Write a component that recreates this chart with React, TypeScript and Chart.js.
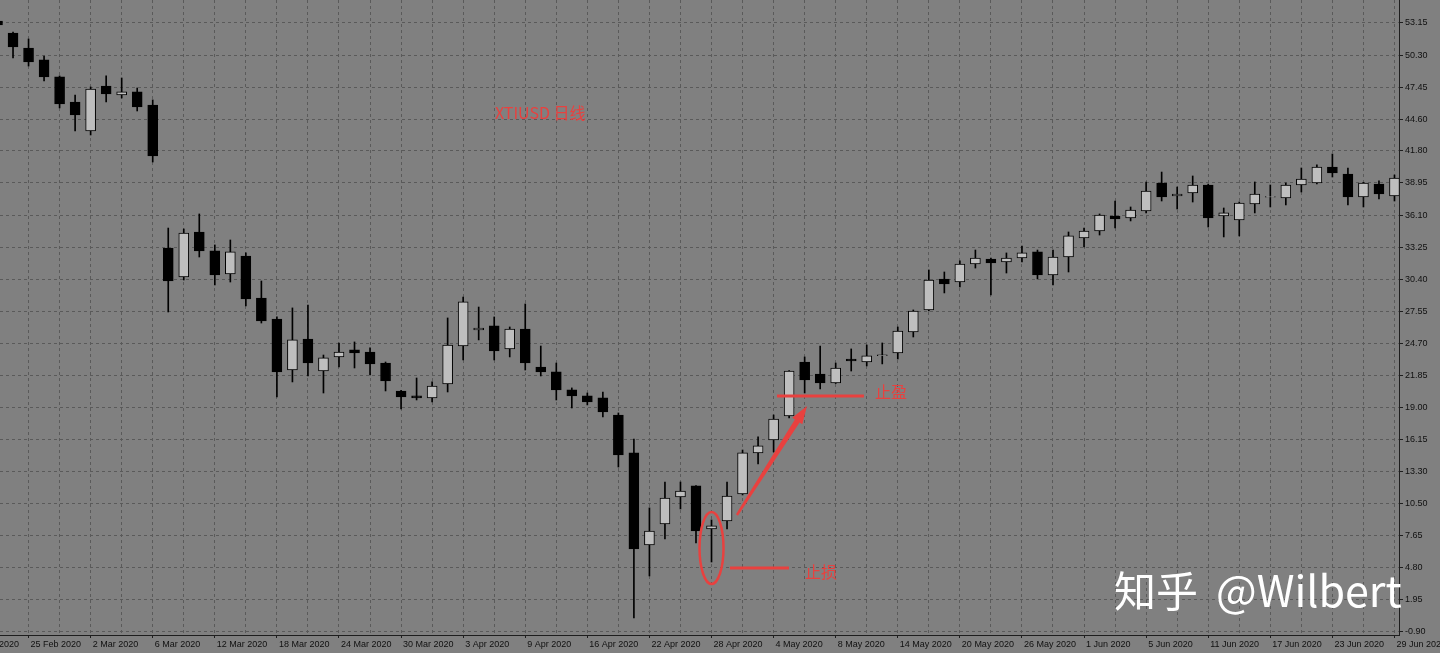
import React, { useEffect, useRef } from 'react';
import { Chart, registerables } from 'chart.js';

Chart.register(...registerables);

// Trading days shown on the axis (first two are off-screen to the left, label only)
const dates = ["19 Feb 2020","20 Feb 2020","21 Feb 2020","24 Feb 2020","25 Feb 2020","26 Feb 2020","27 Feb 2020","28 Feb 2020","2 Mar 2020","3 Mar 2020","4 Mar 2020","5 Mar 2020","6 Mar 2020","9 Mar 2020","10 Mar 2020","11 Mar 2020","12 Mar 2020","13 Mar 2020","16 Mar 2020","17 Mar 2020","18 Mar 2020","19 Mar 2020","20 Mar 2020","23 Mar 2020","24 Mar 2020","25 Mar 2020","26 Mar 2020","27 Mar 2020","30 Mar 2020","31 Mar 2020","1 Apr 2020","2 Apr 2020","3 Apr 2020","6 Apr 2020","7 Apr 2020","8 Apr 2020","9 Apr 2020","13 Apr 2020","14 Apr 2020","15 Apr 2020","16 Apr 2020","17 Apr 2020","20 Apr 2020","21 Apr 2020","22 Apr 2020","23 Apr 2020","24 Apr 2020","27 Apr 2020","28 Apr 2020","29 Apr 2020","30 Apr 2020","1 May 2020","4 May 2020","5 May 2020","6 May 2020","7 May 2020","8 May 2020","11 May 2020","12 May 2020","13 May 2020","14 May 2020","15 May 2020","18 May 2020","19 May 2020","20 May 2020","21 May 2020","22 May 2020","25 May 2020","26 May 2020","27 May 2020","28 May 2020","29 May 2020","1 Jun 2020","2 Jun 2020","3 Jun 2020","4 Jun 2020","5 Jun 2020","8 Jun 2020","9 Jun 2020","10 Jun 2020","11 Jun 2020","12 Jun 2020","15 Jun 2020","16 Jun 2020","17 Jun 2020","18 Jun 2020","19 Jun 2020","22 Jun 2020","23 Jun 2020","24 Jun 2020","25 Jun 2020","26 Jun 2020","29 Jun 2020"];

// index in `dates` of the first candle
const FIRST_CANDLE = 2;

const opens = [53.33,52.26,50.93,49.87,48.36,46.14,43.56,47.56,46.76,47.03,45.87,33.18,30.61,34.60,32.92,30.87,32.47,28.74,26.88,22.35,25.10,22.26,23.51,24.13,23.95,22.97,20.49,20.05,19.87,21.11,24.48,25.90,26.26,24.22,25.99,22.62,22.18,20.58,20.05,19.87,18.36,14.99,6.82,8.68,11.08,12.06,8.24,8.95,11.35,14.99,16.14,18.27,23.06,21.99,21.20,23.33,23.06,23.62,23.86,25.72,27.68,30.43,30.16,31.76,32.20,31.94,32.29,32.83,30.78,32.38,34.07,34.69,36.02,35.84,36.46,38.95,37.79,38.06,38.77,36.02,35.66,37.08,37.68,37.62,38.77,38.95,40.37,39.75,37.71,38.86,37.79];
const highs = [53.70,52.35,51.73,50.22,48.45,46.76,47.47,48.45,48.27,47.38,46.32,34.95,34.87,36.20,33.45,33.89,32.74,30.25,27.06,27.86,28.12,23.68,24.75,24.84,24.31,23.06,20.55,21.64,21.29,26.97,28.83,27.94,27.06,26.17,28.21,24.48,22.97,20.76,20.31,20.40,18.54,16.23,10.11,12.41,12.41,12.10,9.04,12.41,15.25,16.41,18.36,22.30,23.51,24.48,22.97,24.22,24.57,24.75,26.17,27.68,31.23,31.05,32.03,33.00,32.29,32.74,33.36,33.00,33.00,34.60,34.95,36.20,37.35,36.82,39.04,39.92,38.59,39.57,38.85,36.73,37.26,39.04,38.77,38.95,40.28,40.55,41.52,40.28,39.00,39.13,39.66];
const lows = [52.60,50.04,49.33,48.00,45.61,43.56,43.21,46.14,46.49,45.34,40.81,27.50,30.34,32.38,29.90,30.16,28.03,26.52,19.96,21.29,21.82,20.31,22.62,22.53,21.91,20.49,18.89,19.69,19.51,20.40,23.24,25.02,23.24,23.51,22.35,21.82,19.69,18.98,19.25,18.18,13.74,0.34,4.07,7.35,10.02,7.00,5.31,8.24,11.26,14.01,15.08,18.09,20.31,20.67,21.15,22.26,22.71,22.89,23.33,25.28,27.60,29.19,29.72,31.40,29.01,30.96,31.94,30.43,29.90,31.05,33.27,34.33,34.95,35.58,36.29,37.35,36.64,37.26,35.04,34.16,34.25,36.29,36.82,37.00,38.15,38.86,39.48,37.00,36.82,37.53,37.35];
const closes = [52.97,51.02,49.69,48.36,45.96,44.98,47.29,46.85,47.03,45.70,41.35,30.25,34.51,32.92,30.78,32.83,28.65,26.70,22.18,25.02,22.97,23.42,23.95,23.86,22.88,21.38,19.96,19.87,20.93,24.57,28.39,26.08,24.04,25.99,22.97,22.18,20.58,20.05,19.51,18.63,14.81,6.47,8.06,10.99,11.61,8.06,8.51,11.17,14.99,15.61,18.00,22.26,21.47,21.20,22.53,23.15,23.60,23.70,25.81,27.59,30.34,29.99,31.76,32.29,31.85,32.29,32.74,30.78,32.38,34.25,34.69,36.11,35.75,36.55,38.24,37.71,37.97,38.77,35.84,36.29,37.17,37.97,37.74,38.77,39.30,40.37,39.84,37.71,38.95,37.97,39.39];

// right-hand price scale labels
const priceTicks = [53.15,50.30,47.45,44.60,41.80,38.95,36.10,33.25,30.40,27.55,24.70,21.85,19.00,16.15,13.30,10.50,7.65,4.80,1.95,-0.90];

const PRICE_MIN = -1.17;
const PRICE_MAX = 55.19;
const X_MIN = 2.161;
const X_MAX = 92.291;

// annotations (x in bar index of `dates`, y in price)
const title = { text: 'XTIUSD 日线', x: 34.05, y: 45.16 };
const stopLoss = { x0: 49.19, x1: 52.99, price: 4.78, label: '止损', lx: 54.02, ly: 4.42 };
const takeProfit = { x0: 52.22, x1: 57.82, price: 20.04, label: '止盈', lx: 58.53, ly: 20.40 };
const arrow = { x0: 49.64, y0: 9.48, x1: 54.15, y1: 19.16 };
const circled = { x: 48, y: 6.55, ry: 3.2 };
const watermarkA = '知乎';
const watermarkB = '@Wilbert';

const RED = '#e8413f';
const FONT = "'Liberation Sans', Arial, sans-serif";
const CJK = "'Noto Sans CJK SC', 'Liberation Sans', sans-serif";

const bgPlugin = {
  id: 'bg',
  beforeDraw(chart: any) {
    const { ctx, width, height } = chart;
    ctx.save();
    ctx.fillStyle = '#808080';
    ctx.fillRect(0, 0, width, height);
    ctx.restore();
  },
};

const annoPlugin = {
  id: 'anno',
  afterDatasetsDraw(chart: any) {
    const { ctx } = chart;
    const xs = chart.scales.x;
    const ys = chart.scales.y;
    const px = (v: number) => xs.getPixelForValue(v);
    const py = (v: number) => ys.getPixelForValue(v);
    ctx.save();
    ctx.strokeStyle = RED;
    ctx.fillStyle = RED;
    ctx.lineCap = 'butt';

    // title
    ctx.font = `16px ${CJK}`;
    ctx.textAlign = 'left';
    ctx.textBaseline = 'middle';
    ctx.fillText(title.text, px(title.x), py(title.y));

    // stop loss / take profit lines
    ctx.lineWidth = 3;
    for (const l of [stopLoss, takeProfit]) {
      ctx.beginPath();
      ctx.moveTo(px(l.x0), py(l.price));
      ctx.lineTo(px(l.x1), py(l.price));
      ctx.stroke();
      ctx.font = `16px ${CJK}`;
      ctx.fillText(l.label, px(l.lx), py(l.ly));
    }

    // ellipse around the hammer candle
    ctx.lineWidth = 2.5;
    const cy = py(circled.y);
    const ry = Math.abs(py(circled.y + circled.ry) - cy);
    ctx.beginPath();
    ctx.ellipse(px(circled.x), cy, 12, ry, 0, 0, Math.PI * 2);
    ctx.stroke();

    // tapered arrow
    const ax0 = px(arrow.x0), ay0 = py(arrow.y0), ax1 = px(arrow.x1), ay1 = py(arrow.y1);
    const dx = ax1 - ax0, dy = ay1 - ay0;
    const len = Math.hypot(dx, dy);
    const ux = dx / len, uy = dy / len;
    const nx = -uy, ny = ux;
    const headLen = 18, headW = 6;
    const bx = ax1 - ux * headLen, by = ay1 - uy * headLen;
    ctx.beginPath();
    ctx.moveTo(ax0 + nx * 1.2, ay0 + ny * 1.2);
    ctx.lineTo(bx + nx * 2.8, by + ny * 2.8);
    ctx.lineTo(bx + nx * headW, by + ny * headW);
    ctx.lineTo(ax1, ay1);
    ctx.lineTo(bx - nx * headW, by - ny * headW);
    ctx.lineTo(bx - nx * 2.8, by - ny * 2.8);
    ctx.lineTo(ax0 - nx * 1.2, ay0 - ny * 1.2);
    ctx.closePath();
    ctx.fill();
    ctx.restore();
  },
  afterDraw(chart: any) {
    const { ctx } = chart;
    ctx.save();
    ctx.fillStyle = '#ffffff';
    ctx.font = `42px ${CJK}`;
    ctx.textAlign = 'left';
    ctx.textBaseline = 'alphabetic';
    ctx.fillText(watermarkA, 1114, 607);
    ctx.font = `43px ${CJK}`;
    ctx.fillText(watermarkB, 1216, 607);
    ctx.restore();
  },
};

export default function App() {
  const ref = useRef<HTMLCanvasElement>(null);

  useEffect(() => {
    const candleX = opens.map((_, i) => i + FIRST_CANDLE);
    const bodies = opens.map((o, i) => ({ x: candleX[i], y: [o, closes[i]] }));
    const wicks = opens.map((_, i) => ({ x: candleX[i], y: [lows[i], highs[i]] }));
    const bodyColors = opens.map((o, i) => (closes[i] >= o ? '#bebebe' : '#000000'));

    const xTicks: number[] = [];
    for (let v = 0; v < dates.length; v += 2) xTicks.push(v);

    const chart = new Chart(ref.current as HTMLCanvasElement, {
      type: 'bar',
      data: {
        datasets: [
          {
            label: 'body',
            data: bodies as any,
            backgroundColor: bodyColors,
            borderColor: '#000000',
            borderWidth: 1,
            borderSkipped: false,
            barThickness: 10,
            grouped: false,
            order: 1,
          },
          {
            label: 'wick',
            data: wicks as any,
            backgroundColor: '#000000',
            borderWidth: 0,
            barThickness: 1,
            grouped: false,
            order: 2,
          },
        ],
      },
      options: {
        animation: false,
        responsive: false,
        devicePixelRatio: 1,
        layout: { padding: 0 },
        plugins: { legend: { display: false }, tooltip: { enabled: false } },
        scales: {
          x: {
            type: 'linear',
            min: X_MIN,
            max: X_MAX,
            offset: false,
            afterBuildTicks: (s: any) => {
              s.ticks = xTicks.map((v) => ({ value: v }));
            },
            afterFit: (s: any) => {
              s.height = 18;
              s.paddingLeft = 0;
              s.paddingRight = 0;
            },
            grid: {
              offset: false,
              color: '#5a5a5a',
              lineWidth: 1,
              drawTicks: true,
              tickLength: 3,
              tickColor: (c: any) => (c.tick && c.tick.value % 4 === 0 ? '#1e1e1e' : 'rgba(0,0,0,0)'),
            },
            border: { display: true, color: '#1e1e1e', width: 1, dash: [3, 3] },
            ticks: {
              autoSkip: false,
              maxRotation: 0,
              minRotation: 0,
              align: 'start',
              labelOffset: 2,
              padding: 1,
              color: '#101010',
              font: { family: FONT, size: 9 },
              callback: (v: any) => (v % 4 === 0 ? dates[v] : ''),
            },
          },
          y: {
            type: 'linear',
            position: 'right',
            min: PRICE_MIN,
            max: PRICE_MAX,
            afterBuildTicks: (s: any) => {
              s.ticks = priceTicks.map((v) => ({ value: v }));
            },
            afterFit: (s: any) => {
              s.width = 41;
              s.paddingTop = 0;
              s.paddingBottom = 0;
            },
            grid: {
              color: '#5a5a5a',
              lineWidth: 1,
              drawTicks: true,
              tickLength: 4,
              tickColor: '#1e1e1e',
            },
            border: { display: true, color: '#1e1e1e', width: 1, dash: [3, 3] },
            ticks: {
              padding: 2,
              crossAlign: 'near',
              color: '#101010',
              font: { family: FONT, size: 9 },
              callback: (v: any) => Number(v).toFixed(2),
            },
          },
        },
      },
      plugins: [bgPlugin, annoPlugin],
    } as any);

    return () => chart.destroy();
  }, []);

  return (
    <div style={{ position: 'absolute', left: 0, top: 0, width: 1440, height: 653, overflow: 'hidden' }}>
      <canvas ref={ref} width={1440} height={653} style={{ display: 'block' }} />
    </div>
  );
}
